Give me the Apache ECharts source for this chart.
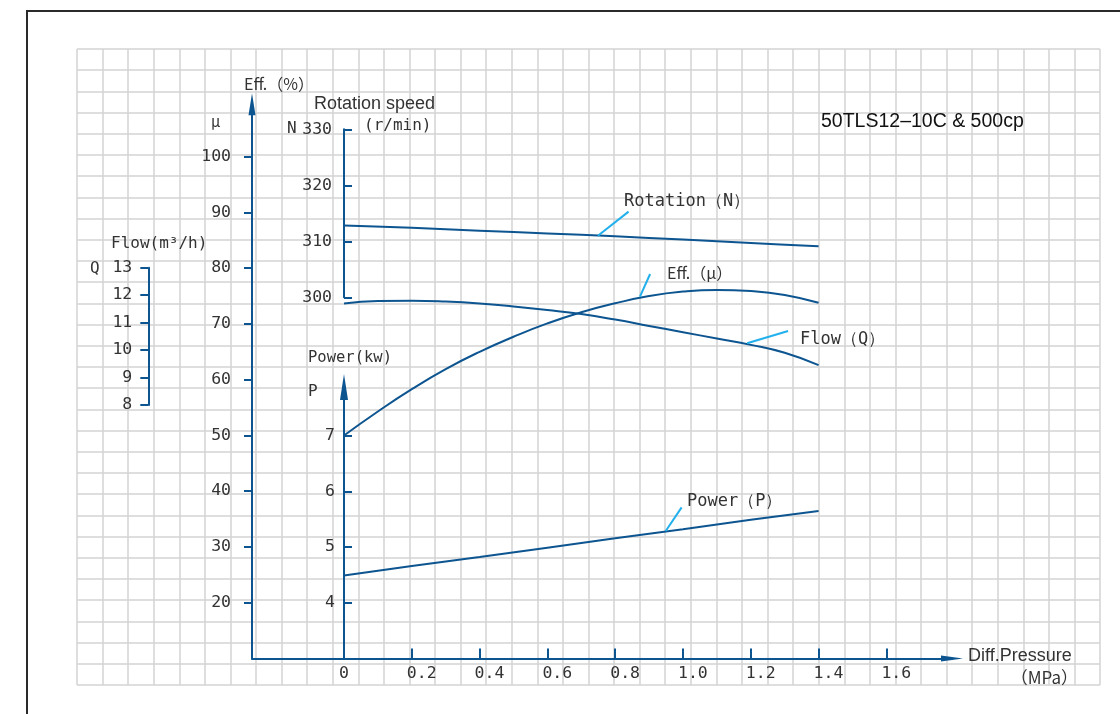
<!DOCTYPE html>
<html><head><meta charset="utf-8">
<script src="https://cdn.jsdelivr.net/npm/echarts@6/dist/echarts.min.js"></script>
<style>html,body{margin:0;padding:0;background:#fff}#c{width:1120px;height:714px}</style>
</head><body><div id="c"></div>
<script>
// ---- data ----
const pressure = [0, 0.1, 0.2, 0.3, 0.4, 0.5, 0.6, 0.7, 0.8, 0.9, 1.0, 1.1, 1.2, 1.3, 1.4];
const efficiency = [50.0, 54.3, 58.3, 61.9, 65.0, 67.7, 70.1, 72.1, 73.7, 75.0, 75.8, 76.1, 75.9, 75.2, 73.8];
const flow = [11.70, 11.79, 11.80, 11.77, 11.70, 11.59, 11.46, 11.31, 11.11, 10.88, 10.65, 10.42, 10.19, 9.90, 9.45];
const pressureCoarse = [0, 0.2, 0.4, 0.6, 0.8, 1.0, 1.2, 1.4];
const rotation = [312.8, 312.4, 311.9, 311.4, 310.9, 310.3, 309.7, 309.1];
const power = [4.49, 4.66, 4.82, 4.99, 5.16, 5.32, 5.49, 5.65];

const pressureTicks = [0.2, 0.4, 0.6, 0.8, 1.0, 1.2, 1.4, 1.6];
const pressureLabels = [0, 0.2, 0.4, 0.6, 0.8, 1.0, 1.2, 1.4, 1.6];
const effTicks = [20, 30, 40, 50, 60, 70, 80, 90, 100];
const rotationTicks = [300, 310, 320, 330];
const flowTicks = [8, 9, 10, 11, 12, 13];
const powerTicks = [4, 5, 6, 7];

// ---- layout / style ----
const BLUE = '#0d5590', CYAN = '#22b0ec', TXT = '#333333';
const MONO = '"DejaVu Sans Mono", monospace';
const CJK = '"Noto Sans CJK SC", sans-serif';
const SANS = '"Liberation Sans", Arial, sans-serif';
const X0 = 344, PXU = 339, XL = 252, XR = 952;
const xMin = (XL - X0) / PXU, xMax = (XR - X0) / PXU;
const lblShift = 5 / PXU;
const EFF_TOP = 104.3, AX_BOTTOM = 658.45;

function g(top, bottom) {
  return { left: XL, width: XR - XL, top: top, height: bottom - top, outerBoundsMode: 'none', containLabel: false };
}
function hiddenX(gi) {
  return { gridIndex: gi, type: 'value', min: xMin, max: xMax, show: false, axisLine: { onZero: false } };
}
const tickLabel = { color: TXT, fontFamily: MONO, fontSize: 16.5 };

const chart = echarts.init(document.getElementById('c'), null, { renderer: 'canvas' });
const option = {
  animation: false,
  backgroundColor: '#fff',
  grid: [
    { left: 77, top: 49, width: 1023, height: 636, outerBoundsMode: 'none' },
    g(EFF_TOP, AX_BOTTOM),
    g(129.3, 297.3),
    g(267.7, 405),
    g(387, AX_BOTTOM)
  ],
  xAxis: [
    { gridIndex: 0, type: 'value', min: 0, max: 40, interval: 1,
      axisLine: { show: false, onZero: false }, axisTick: { show: false }, axisLabel: { show: false },
      splitLine: { show: true, lineStyle: { color: '#d3d3d3', width: 1.5 } } },
    { gridIndex: 1, type: 'value', min: xMin, max: xMax, position: 'bottom',
      axisLine: { show: true, onZero: false, symbol: ['none', 'triangle'], symbolSize: [6, 22], lineStyle: { color: BLUE, width: 2 } },
      axisTick: { show: true, inside: true, length: 10, customValues: pressureTicks, lineStyle: { color: BLUE, width: 2 } },
      axisLabel: { show: false }, splitLine: { show: false } },
    { gridIndex: 1, type: 'value', min: xMin + lblShift, max: xMax + lblShift, position: 'bottom',
      axisLine: { show: false, onZero: false }, axisTick: { show: false }, splitLine: { show: false },
      axisLabel: Object.assign({ show: true, customValues: pressureLabels, align: 'left', margin: 7,
        formatter: v => (v === 0 ? '0' : v.toFixed(1)) }, tickLabel) },
    hiddenX(2), hiddenX(3), hiddenX(4)
  ],
  yAxis: [
    { gridIndex: 0, type: 'value', min: 0, max: 30, interval: 1,
      axisLine: { show: false, onZero: false }, axisTick: { show: false }, axisLabel: { show: false },
      splitLine: { show: true, lineStyle: { color: '#d3d3d3', width: 1.5 } } },
    { gridIndex: 1, type: 'value', min: 10, max: 109.4, position: 'left',
      axisLine: { show: true, onZero: false, symbol: ['none', 'triangle'], symbolSize: [7, 22], lineStyle: { color: BLUE, width: 2 } },
      axisTick: { show: true, inside: false, length: 8, customValues: effTicks, lineStyle: { color: BLUE, width: 2 } },
      axisLabel: Object.assign({ show: true, customValues: effTicks, margin: 21 }, tickLabel),
      splitLine: { show: false } },
    { gridIndex: 2, type: 'value', min: 300, max: 330, position: 'left', offset: XL - X0,
      axisLine: { show: true, onZero: false, lineStyle: { color: BLUE, width: 2 } },
      axisTick: { show: true, inside: true, length: 8, customValues: rotationTicks, lineStyle: { color: BLUE, width: 2 } },
      axisLabel: Object.assign({ show: true, customValues: rotationTicks, margin: 12 }, tickLabel),
      splitLine: { show: false } },
    { gridIndex: 3, type: 'value', min: 8, max: 13, position: 'left', offset: XL - 148.3,
      axisLine: { show: true, onZero: false, lineStyle: { color: BLUE, width: 2 } },
      axisTick: { show: true, inside: false, length: 8, customValues: flowTicks, lineStyle: { color: BLUE, width: 2 } },
      axisLabel: Object.assign({ show: true, customValues: flowTicks, margin: 16 }, tickLabel),
      splitLine: { show: false } },
    { gridIndex: 4, type: 'value', min: 3, max: 7.875, position: 'left', offset: XL - X0,
      axisLine: { show: true, onZero: false, symbol: ['none', 'triangle'], symbolSize: [8, 26], lineStyle: { color: BLUE, width: 2 } },
      axisTick: { show: true, inside: true, length: 8, customValues: powerTicks, lineStyle: { color: BLUE, width: 2 } },
      axisLabel: Object.assign({ show: true, customValues: powerTicks, margin: 9 }, tickLabel),
      splitLine: { show: false } }
  ],
  series: [
    { type: 'line', name: 'Eff', xAxisIndex: 1, yAxisIndex: 1, smooth: 0.5, showSymbol: false,
      data: pressure.map((p, i) => [p, efficiency[i]]),
      lineStyle: { color: BLUE, width: 2 },
      markLine: { silent: true, symbol: ['none', 'none'], label: { show: false },
        lineStyle: { color: CYAN, width: 2, type: 'solid' },
        data: [[{ coord: [0.873, 74.9] }, { coord: [0.903, 78.96] }]] } },
    { type: 'line', name: 'Rotation', xAxisIndex: 3, yAxisIndex: 2, smooth: 0.3, showSymbol: false,
      data: pressureCoarse.map((p, i) => [p, rotation[i]]),
      lineStyle: { color: BLUE, width: 2 },
      markLine: { silent: true, symbol: ['none', 'none'], label: { show: false },
        lineStyle: { color: CYAN, width: 2, type: 'solid' },
        data: [[{ coord: [0.749, 311.0] }, { coord: [0.8395, 315.3] }]] } },
    { type: 'line', name: 'Flow', xAxisIndex: 4, yAxisIndex: 3, smooth: 0.5, showSymbol: false,
      data: pressure.map((p, i) => [p, flow[i]]),
      lineStyle: { color: BLUE, width: 2 },
      markLine: { silent: true, symbol: ['none', 'none'], label: { show: false },
        lineStyle: { color: CYAN, width: 2, type: 'solid' },
        data: [[{ coord: [1.189, 10.25] }, { coord: [1.31, 10.695] }]] } },
    { type: 'line', name: 'Power', xAxisIndex: 5, yAxisIndex: 4, smooth: false, showSymbol: false,
      data: pressureCoarse.map((p, i) => [p, power[i]]),
      lineStyle: { color: BLUE, width: 2 },
      markLine: { silent: true, symbol: ['none', 'none'], label: { show: false },
        lineStyle: { color: CYAN, width: 2, type: 'solid' },
        data: [[{ coord: [0.949, 5.288] }, { coord: [0.996, 5.714] }]] } }
  ],
  graphic: []
};

function txt(s, x, y, font, opts) {
  opts = opts || {};
  return { type: 'text', x: x, y: y, z: 50, silent: true,
    style: { text: s, font: font, fill: opts.fill || TXT,
      textAlign: opts.align || 'left', align: opts.align || 'left',
      textVerticalAlign: 'middle', verticalAlign: 'middle' } };
}
option.graphic = [
  { type: 'rect', z: 60, silent: true, shape: { x: 27, y: 11, width: 1300, height: 900 },
    style: { fill: 'none', stroke: '#2a2a2a', lineWidth: 2 } },
  txt('Eff.（%）', 244, 84, '16px ' + CJK),
  txt('μ', 211, 121, '15px ' + CJK),
  txt('Rotation speed', 314, 104.5, '18px ' + SANS),
  txt('(r/min)', 364, 126, '16px ' + MONO),
  txt('N', 287, 129, '16px ' + MONO),
  txt('Flow(m³/h)', 111, 244, '16px ' + MONO),
  txt('Q', 90, 269, '16px ' + MONO),
  txt('Power(kw)', 308, 357.5, '15.5px ' + MONO),
  txt('P', 308, 392, '16px ' + MONO),
  txt('Diff.Pressure', 968, 656, '18px ' + SANS),
  txt('（MPa）', 1078, 677.5, '17px ' + CJK, { align: 'right' }),
  txt('50TLS12–10C & 500cp', 821, 122, '19.5px ' + SANS, { fill: '#111' }),
  txt('Rotation（N）', 624, 202, '17px ' + MONO),
  txt('Eff.（μ）', 667, 273, '16px ' + CJK),
  txt('Flow（Q）', 800, 339.5, '17px ' + MONO),
  txt('Power（P）', 687, 501.5, '17px ' + MONO)
];
chart.setOption(option);
</script>
</body></html>
